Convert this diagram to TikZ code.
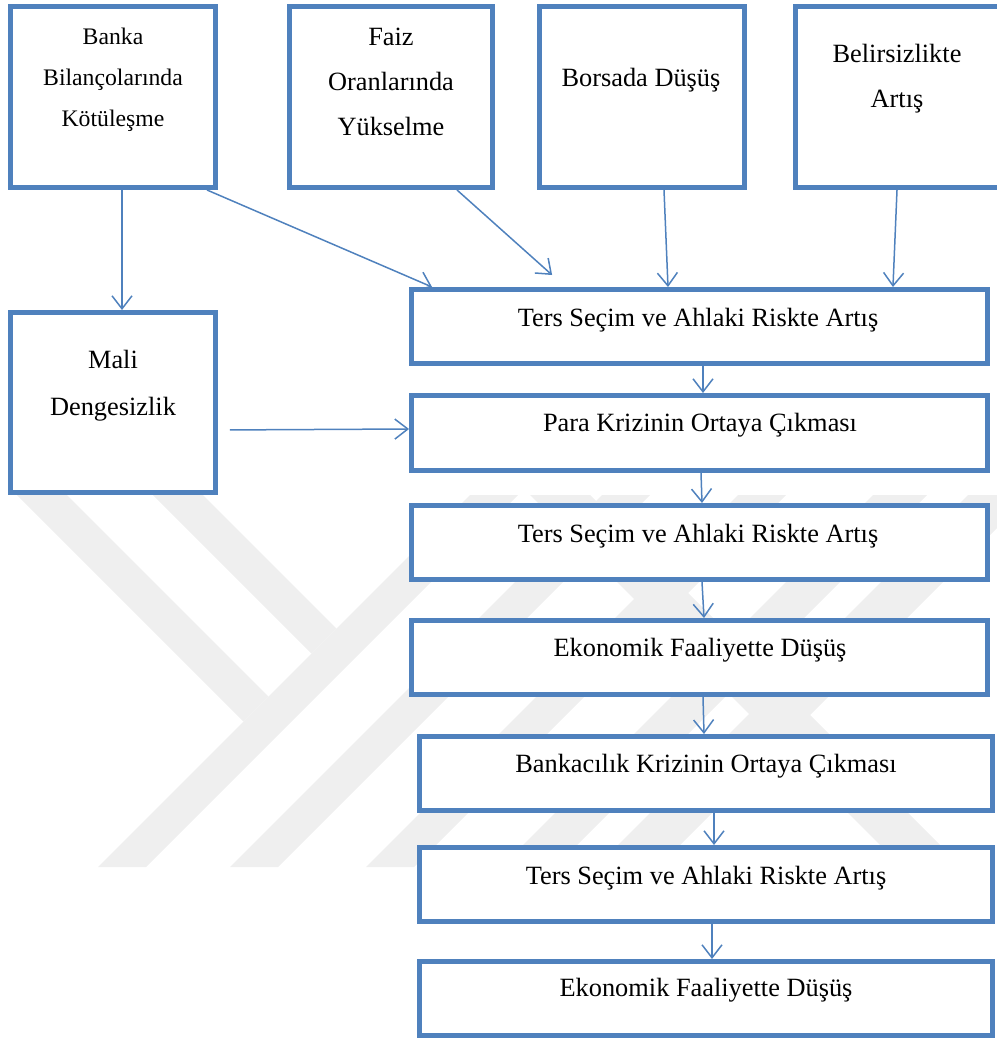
\documentclass[tikz,border=0pt]{standalone}
\usepackage{fontspec}
\setmainfont{Liberation Serif}
\usetikzlibrary{arrows.meta}
\definecolor{boxblue}{HTML}{4F81BD}
\definecolor{wmgray}{HTML}{EFEFEF}
\tikzset{
  box/.style={draw=boxblue, line width=0.1cm, fill=white, inner sep=0pt},
  topbox/.style={box, minimum width=4.1cm, minimum height=3.62cm},
  flowbox/.style={box, minimum width=11.52cm, minimum height=1.48cm},
  lbl/.style={align=center, inner sep=0pt, font=\fontsize{15}{25.6}\selectfont},
  arr/.style={draw=boxblue, line width=0.03cm, -{Straight Barb[length=0.26cm, width=0.4cm]}},
}
\begin{document}
\begin{tikzpicture}[x=0.02cm, y=-0.02cm]
    \useasboundingbox (0,0) rectangle (997,1041);
    % watermark
    \fill[wmgray] (17,495) -- (67,495) -- (268.5,696.5) -- (243.5,721.5) -- cycle;
    \fill[wmgray] (153,495) -- (203,495) -- (336.5,628.5) -- (311.5,653.5) -- cycle;
    \fill[wmgray] (98,867) -- (146,867) -- (518,495) -- (470,495) -- cycle;
    \fill[wmgray] (230,867) -- (278,867) -- (650,495) -- (602,495) -- cycle;
    \fill[wmgray] (366,867) -- (414,867) -- (786,495) -- (738,495) -- cycle;
    \fill[wmgray] (501,867) -- (555,867) -- (927,495) -- (873,495) -- cycle;
    \fill[wmgray] (596,867) -- (658,867) -- (1030,495) -- (968,495) -- cycle;
    \fill[wmgray] (530,495) -- (590,495) -- (962,867) -- (902,867) -- cycle;
    % top row
    \node[topbox] (banka) at (113,97) {};
    \node[lbl, font=\fontsize{13.5}{23.3}\selectfont] (t-banka) at (113,80) {Banka\\Bilançolarında\\Kötüleşme};
    \node[topbox, minimum width=4.06cm] (faiz) at (391,97) {};
    \node[lbl] (t-faiz) at (391,82) {Faiz\\Oranlarında\\Yükselme};
    \node[topbox] (borsa) at (642,97) {};
    \node[lbl] (t-borsa) at (641,80) {Borsada Düşüş};
    \node[topbox, minimum width=4.14cm] (belirsiz) at (899,97) {};
    \node[lbl] (t-belirsiz) at (897,79) {Belirsizlikte\\Artış};
    \node[topbox, minimum height=3.6cm] (mali) at (113,402.5) {};
    \node[lbl, font=\fontsize{15}{26.7}\selectfont] (t-mali) at (113,385.5) {Mali\\Dengesizlik};
    % flow column
    \node[flowbox] (ters1) at (699.5,326.5) {};
    \node[lbl] (t-ters1) at (698,320) {Ters Seçim ve Ahlaki Riskte Artış};
    \node[flowbox, minimum height=1.5cm] (para) at (699.5,433) {};
    \node[lbl] (t-para) at (700,425) {Para Krizinin Ortaya Çıkması};
    \node[flowbox] (ters2) at (699.5,542.5) {};
    \node[lbl] (t-ters2) at (698,536) {Ters Seçim ve Ahlaki Riskte Artış};
    \node[flowbox] (ekon1) at (699.5,657.5) {};
    \node[lbl] (t-ekon1) at (700,650) {Ekonomik Faaliyette Düşüş};
    \node[flowbox, minimum width=11.46cm] (bankk) at (706,773.5) {};
    \node[lbl] (t-bankk) at (706,766) {Bankacılık Krizinin Ortaya Çıkması};
    \node[flowbox, minimum width=11.46cm] (ters3) at (706,884.5) {};
    \node[lbl] (t-ters3) at (706,878) {Ters Seçim ve Ahlaki Riskte Artış};
    \node[flowbox, minimum width=11.46cm] (ekon2) at (706,998.5) {};
    \node[lbl] (t-ekon2) at (706,990) {Ekonomik Faaliyette Düşüş};
    % arrows
    \draw[arr] ([xshift=0.18cm]banka.south) -- ([xshift=0.18cm]mali.north);
    \draw[arr] ([xshift=1.88cm]banka.south) -- ([xshift=-5.35cm]ters1.north);
    \draw[arr, shorten >=0.36cm] ([xshift=1.32cm]faiz.south) -- ([xshift=-2.68cm]ters1.north);
    \draw[arr] ([xshift=0.44cm]borsa.south) -- ([xshift=-0.63cm]ters1.north);
    \draw[arr] ([xshift=-0.04cm]belirsiz.south) -- ([xshift=3.87cm]ters1.north);
    \draw[arr, shorten <=0.24cm] ([yshift=-0.55cm]mali.east) -- ([yshift=0.08cm]para.west);
    \draw[arr] ([xshift=0.07cm]ters1.south) -- ([xshift=0.07cm]para.north);
    \draw[arr] ([xshift=0.03cm]para.south) -- ([xshift=0.05cm]ters2.north);
    \draw[arr] ([xshift=0.05cm]ters2.south) -- ([xshift=0.09cm]ekon1.north);
    \draw[arr] ([xshift=0.07cm]ekon1.south) -- ([xshift=-0.04cm]bankk.north);
    \draw[arr] ([xshift=0.16cm]bankk.south) -- ([xshift=0.16cm]ters3.north);
    \draw[arr] ([xshift=0.12cm]ters3.south) -- ([xshift=0.12cm]ekon2.north);
  \end{tikzpicture}
\end{document}
